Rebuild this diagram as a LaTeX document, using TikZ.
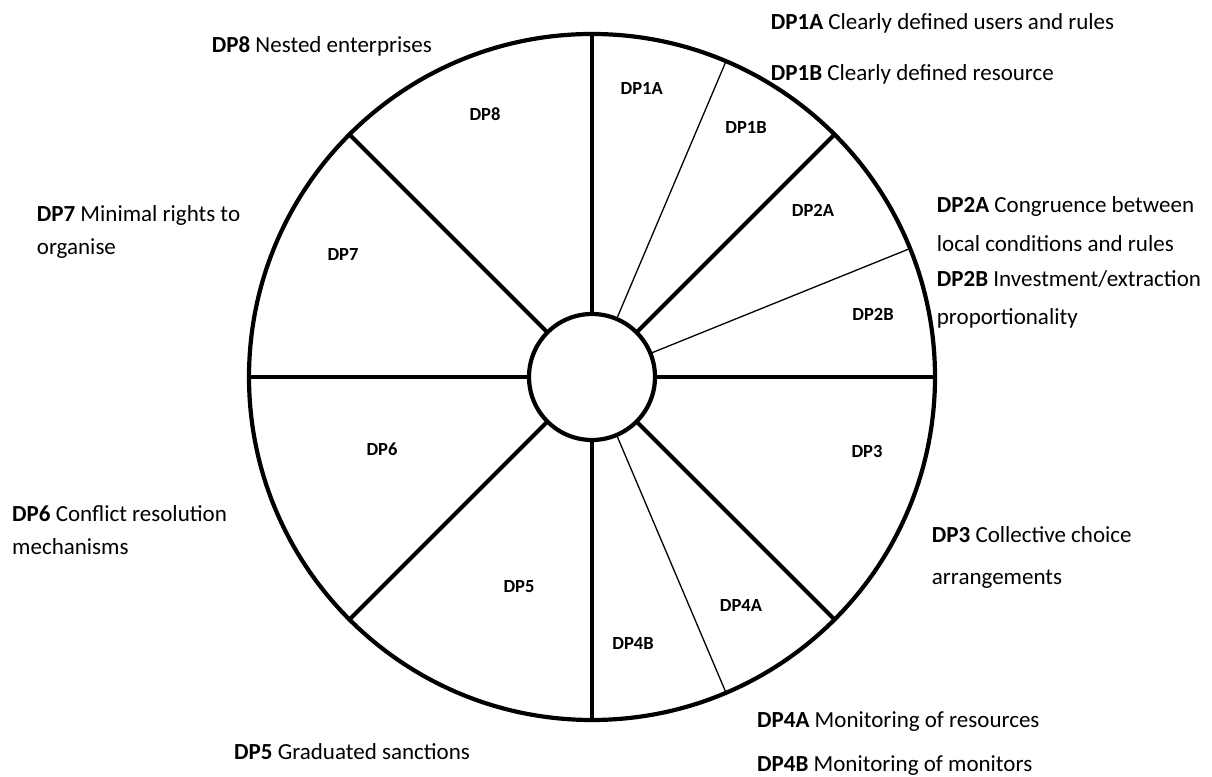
\documentclass[tikz,border=0pt]{standalone}
\usepackage{fontspec}
\setmainfont{Carlito}
\begin{document}
\begin{tikzpicture}[x=1pt,y=1pt,
  thickline/.style={line width=4.2pt},
  thinline/.style={line width=1.3pt},
  ring/.style={circle, draw, line width=4.2pt, inner sep=0pt, outer sep=0pt},
  seg/.style={inner sep=0pt, font=\fontsize{18.5}{22}\selectfont\bfseries},
  lab/.style={anchor=base west, inner sep=0pt, font=\fontsize{23}{28}\selectfont}]
\useasboundingbox (0,0) rectangle (1212,776);
\coordinate (c) at (592,399);
\node[ring, minimum size=686pt] (rim) at (c) {};
\node[ring, minimum size=126pt, fill=white] (hub) at (c) {};
\foreach \a in {90,45,0,-45,-90,-135,180,135}
  \draw[thickline] (hub.\a) -- (rim.\a);
\foreach \a in {67.5,22.5,-67.5}
  \draw[thinline] (hub.\a) -- (rim.\a);
% segment labels
\node[seg] (s1a) at (641.7,687) {DP1A};
\node[seg] (s1b) at (746,648) {DP1B};
\node[seg] (s2a) at (813,566) {DP2A};
\node[seg] (s2b) at (873,462) {DP2B};
\node[seg] (s3) at (867,324) {DP3};
\node[seg] (s4a) at (741,171) {DP4A};
\node[seg] (s4b) at (633,133) {DP4B};
\node[seg] (s5) at (519,189) {DP5};
\node[seg] (s6) at (382,327) {DP6};
\node[seg] (s7) at (343,521) {DP7};
\node[seg] (s8) at (485,662) {DP8};
% outer labels
\node[lab] (l1a) at (770.7,746) {\textbf{DP1A} Clearly defined users and rules};
\node[lab] (l1b) at (770.7,695) {\textbf{DP1B} Clearly defined resource};
\node[lab] (l8) at (211.7,723) {\textbf{DP8} Nested enterprises};
\node[lab] (l7) at (36.7,554.3) {\textbf{DP7} Minimal rights to};
\node[lab] (l7b) at (36.7,521) {organise};
\node[lab] (l2a) at (936.7,563) {\textbf{DP2A} Congruence between};
\node[lab] (l2ab) at (936.7,524) {local conditions and rules};
\node[lab] (l2b) at (936.7,489) {\textbf{DP2B} Investment/extraction};
\node[lab] (l2bb) at (936.7,451) {proportionality};
\node[lab] (l6) at (12,254) {\textbf{DP6} Conflict resolution};
\node[lab] (l6b) at (12,221) {mechanisms};
\node[lab] (l3) at (931.7,233.3) {\textbf{DP3} Collective choice};
\node[lab] (l3b) at (931.7,191) {arrangements};
\node[lab] (l4a) at (757,48.5) {\textbf{DP4A} Monitoring of resources};
\node[lab] (l4b) at (757,4.5) {\textbf{DP4B} Monitoring of monitors};
\node[lab] (l5) at (234,16.5) {\textbf{DP5} Graduated sanctions};
\end{tikzpicture}
\end{document}
